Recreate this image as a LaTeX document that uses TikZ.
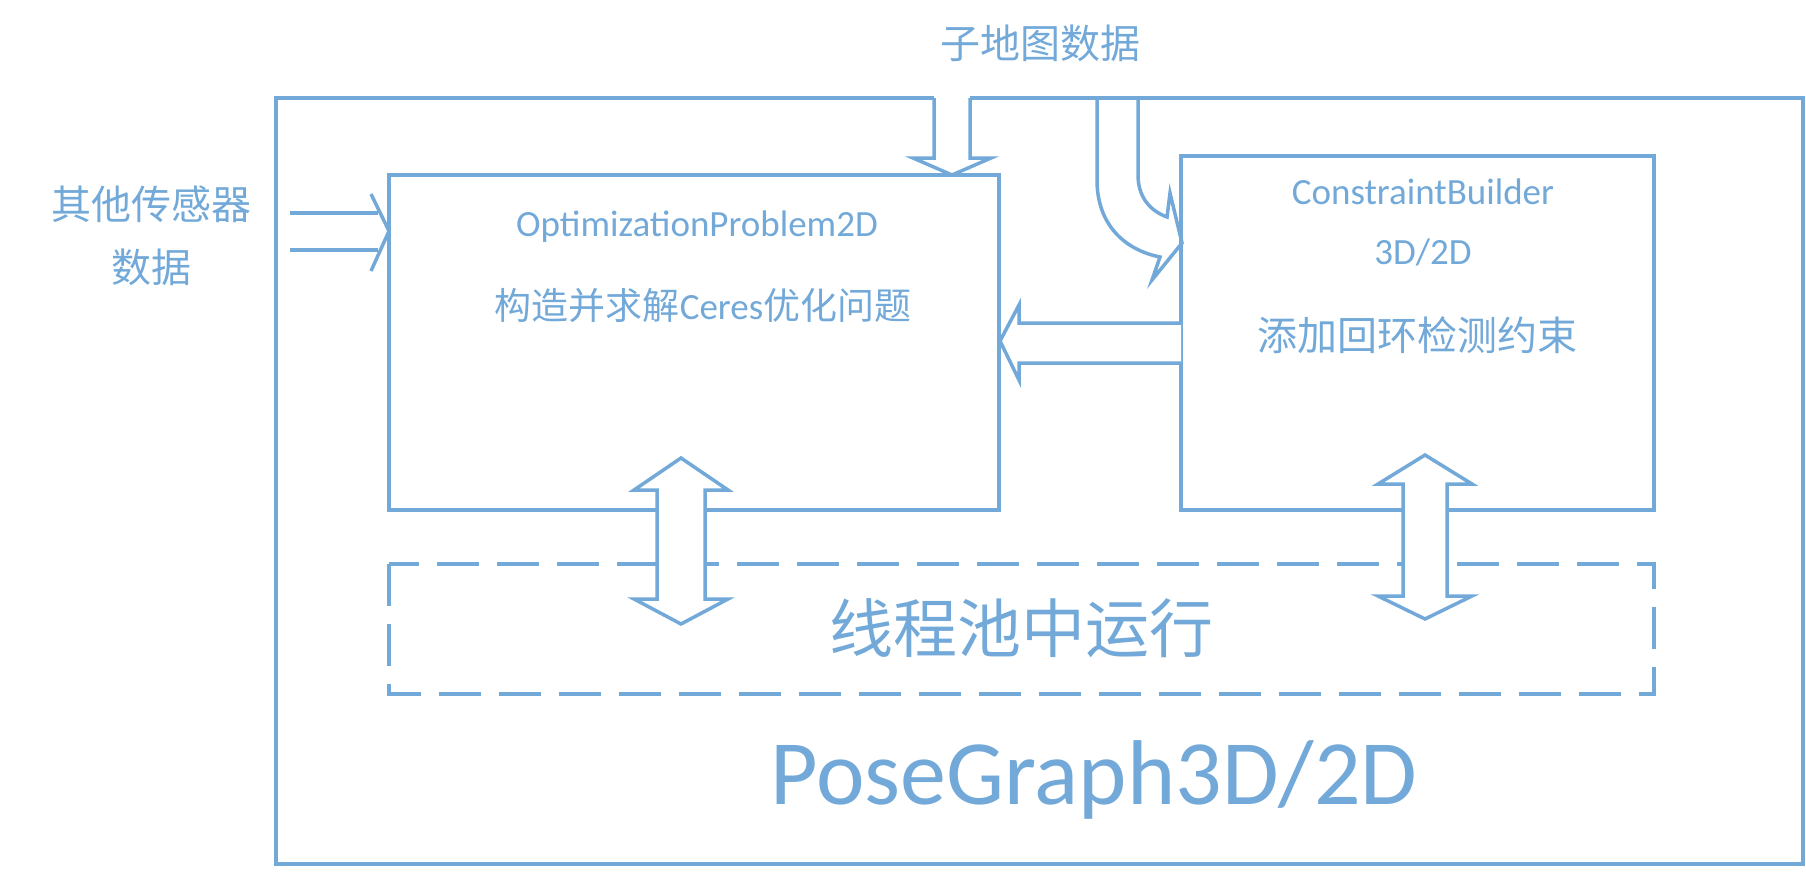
\documentclass[tikz,border=0pt]{standalone}
\usepackage{fontspec}
\setmainfont{Carlito}
\newfontfamily\cjk{Noto Sans CJK SC}
\definecolor{bl}{HTML}{72A9D8}
\begin{document}
\begin{tikzpicture}[x=1pt,y=-1pt,line width=3.5pt,
  every node/.style={text=bl,inner sep=0pt},
  box/.style={draw=bl,line width=3.5pt},
  arr/.style={draw=bl,fill=white,line width=3.5pt,line join=miter}]
\useasboundingbox (0,0) rectangle (1806,884);
% outer box
\draw[bl] (934,98) -- (276,98) -- (276,864) -- (1803,864) -- (1803,98) -- (970,98);
% boxes
\draw[box] (389,175) rectangle (999,510);
\draw[box] (1181,156) rectangle (1654,510);
\draw[box,dashed,dash pattern=on 42pt off 18pt] (389,564) rectangle (1654,694);
% down arrow from top
\draw[arr] (934,98) -- (934,158) -- (913,158) -- (952,175) -- (991,158) -- (970,158) -- (970,98);
% curved arrow
\draw[arr,fill=none] (1097,98) -- (1097,180) .. controls (1097,225) and (1125,250) .. (1160,257) -- (1152,280) -- (1182,243) -- (1170,193) -- (1167,217) .. controls (1148,210) and (1138,195) .. (1138,175) -- (1138,98);
% left arrow from CB to Opt
\draw[arr] (1181,323) -- (1019,323) -- (1019,305) -- (1000,341) -- (1019,380) -- (1019,363) -- (1181,363);
% input arrow
\draw[arr,fill=none] (290,213) -- (378,213);
\draw[arr,fill=none] (290,250) -- (378,250);
\draw[arr,fill=none] (371,194) -- (389,231) -- (371,271);
% double arrows
\draw[arr] (657,490) -- (634,490) -- (681,458) -- (728,490) -- (705,490) -- (705,599) -- (728,599) -- (681,624) -- (634,599) -- (657,599) -- cycle;
\draw[arr] (1403,484) -- (1378,484) -- (1425,455) -- (1472,484) -- (1447,484) -- (1447,596) -- (1472,596) -- (1425,619) -- (1378,596) -- (1403,596) -- cycle;
% texts
\node (t1) at (1040,43) {\cjk\fontsize{40}{44}\selectfont 子地图数据};
\node (t2) at (151,204) {\cjk\fontsize{40}{44}\selectfont 其他传感器};
\node (t3) at (151,267) {\cjk\fontsize{40}{44}\selectfont 数据};
\node (o1) at (697,227) {\fontsize{37}{40}\selectfont OptimizationProblem2D};
\node (o2) at (703,306) {\fontsize{37}{40}\selectfont\cjk 构造并求解\rmfamily Ceres\cjk 优化问题};
\node (c1) at (1423,192) {\fontsize{37}{40}\selectfont ConstraintBuilder};
\node (c2) at (1423,252) {\fontsize{37}{40}\selectfont 3D/2D};
\node (c3) at (1417,335) {\cjk\fontsize{40}{44}\selectfont 添加回环检测约束};
\node (p1) at (1021,628) {\cjk\fontsize{64}{70}\selectfont 线程池中运行};
\node (p2) at (1094,780) {\fontsize{92}{100}\selectfont PoseGraph3D/2D};
\end{tikzpicture}
\end{document}
